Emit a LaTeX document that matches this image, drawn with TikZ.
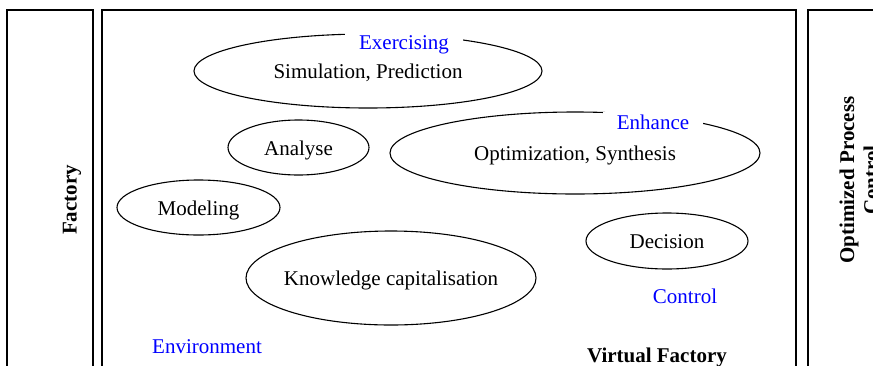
\documentclass[tikz,border=0pt]{standalone}
\usepackage{fontspec}
\setmainfont{Liberation Serif}
\usetikzlibrary{shapes.geometric}
\begin{document}
\begin{tikzpicture}[x=1pt,y=-1pt,
   every node/.style={font=\fontsize{21}{24}\selectfont},
   panel/.style={draw,line width=1.6pt},
   oval/.style={draw,ellipse,line width=1.1pt,inner sep=0pt,text height=20pt,text depth=4.6pt},
   tag/.style={text=blue,fill=white,inner xsep=14pt,inner ysep=3pt},
   title/.style={font=\fontsize{21}{24}\selectfont\bfseries}]
   \clip (0,0) rectangle (873,365);
   \fill[white] (0,0) rectangle (873,365);
   % three panels
   \draw[panel] (7,10) rectangle (93,400);
   \draw[panel] (102,10) rectangle (796,400);
   \draw[panel] (808,10) rectangle (900,400);
   \node[title,rotate=90] (factory) at (72,200) {Factory};
   \node[title,rotate=90,align=center] (opc) at (859,180) {Optimized Process\\Control};
   \node[title] (virtual) at (657,357) {Virtual Factory};
   % activities
   \node[oval,minimum width=348pt,minimum height=74pt] (sim) at (368,71) {Simulation, Prediction};
   \node[oval,minimum width=141pt,minimum height=55pt] (analyse) at (298.5,147.5) {Analyse};
   \node[oval,minimum width=370pt,minimum height=82pt] (optim) at (575,153) {Optimization, Synthesis};
   \node[oval,minimum width=163pt,minimum height=55pt] (model) at (198.5,207.5) {Modeling};
   \node[oval,inner xsep=-6pt,minimum width=290pt,minimum height=94pt] (know) at (391,278) {Knowledge capitalisation};
   \node[oval,minimum width=162pt,minimum height=56pt] (decision) at (667,241) {Decision};
   % blue labels
   \node[tag] (exercising) at (404,45) {Exercising};
   \node[tag] (enhance) at (653,122) {Enhance};
   \node[tag] (control) at (685,296) {Control};
   \node[tag] (environment) at (207,347) {Environment};
\end{tikzpicture}
\end{document}
